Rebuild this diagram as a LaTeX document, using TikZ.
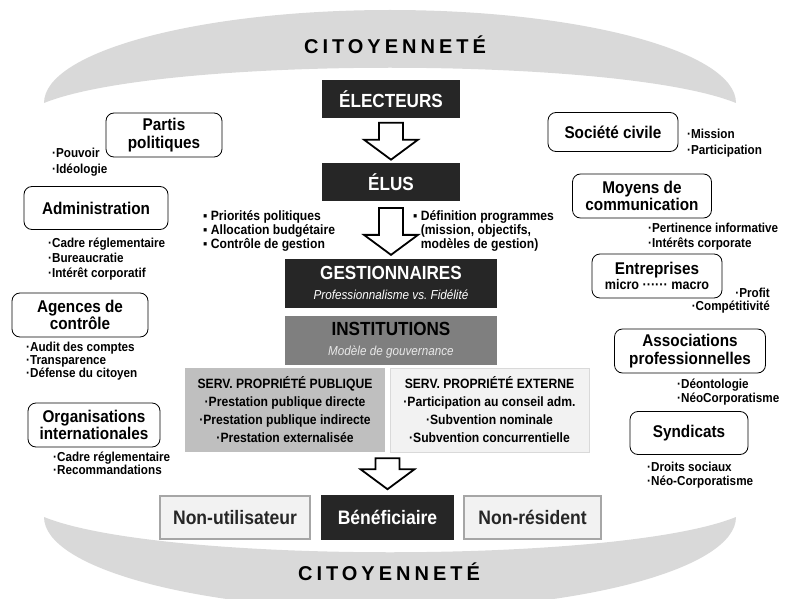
\documentclass[tikz,border=0pt]{standalone}
\usepackage{fontspec}
\setmainfont[FakeStretch=0.9]{Liberation Sans}
\newfontfamily\citfont[LetterSpace=20]{Liberation Sans}
\usetikzlibrary{calc}

\definecolor{bandgray}{HTML}{D9D9D9}
\definecolor{darkfill}{HTML}{262626}
\definecolor{instgray}{HTML}{7F7F7F}
\definecolor{pubgray}{HTML}{BFBFBF}
\definecolor{extfill}{HTML}{F2F2F2}
\definecolor{nonline}{HTML}{A6A6A6}

\newcommand{\sz}[2]{\fontsize{#1}{#2}\selectfont}
% big hollow arrow between two coordinates on the same vertical
\newcommand{\hollowarrow}[2]{%
  \draw[hollow] ($(#1)+(-12,0)$) -- ($(#2)+(-12,-20)$) -- ($(#2)+(-27,-20)$) -- (#2)
    -- ($(#2)+(27,-20)$) -- ($(#2)+(12,-20)$) -- ($(#1)+(12,0)$) -- cycle;}

\tikzset{
  darkbox/.style={fill=darkfill, text=white, inner sep=0pt, align=center,
    minimum width=138pt, minimum height=38pt, font=\sz{19}{21}\bfseries},
  orgbox/.style={draw, rounded corners=8pt, fill=white, line width=0.8pt,
    inner sep=0pt, align=center, font=\sz{17}{17.5}\bfseries},
  list/.style={inner sep=0pt, align=left, font=\sz{13}{15}\bfseries},
  servbox/.style={inner sep=0pt, align=center, minimum width=200pt,
    minimum height=84pt, font=\sz{13.5}{18}\bfseries},
  userbox/.style={fill=extfill, draw=nonline, line width=1.5pt, inner sep=0pt,
    minimum height=43pt, font=\sz{19.5}{20}\bfseries, text=darkfill},
  citoy/.style={inner sep=0pt, font=\citfont\sz{20}{20}\bfseries},
  hollow/.style={draw, fill=white, line width=1.8pt, line join=miter},
}

\begin{document}
\begin{tikzpicture}[x=1pt, y=-1pt]
\useasboundingbox (0,0) rectangle (790,599);
\clip (0,0) rectangle (790,599);

% citizenship bands
\fill[bandgray] (44,103) arc[start angle=180, end angle=360, x radius=346, y radius=93]
  .. controls (620,56) and (160,56) .. cycle;
\fill[bandgray] (44,517) .. controls (160,564) and (620,564) .. (736,517)
  arc[start angle=0, end angle=180, x radius=346, y radius=93] -- cycle;
\node[citoy] (citTop) at (395,45) {CITOYENNETÉ};
\node[citoy] (citBot) at (389,572) {CITOYENNETÉ};

% central chain
\node[darkbox] (elect) at (391,99) {ÉLECTEURS};
\node[darkbox] (elus) at (391,182) {ÉLUS};
\node[darkbox, minimum width=212pt, minimum height=49pt] (gest) at (391,283)
  {GESTIONNAIRES\\[-1pt]{\sz{13}{14}\mdseries\itshape Professionnalisme vs.~Fidélité}};
\node[darkbox, fill=instgray, text=black, minimum width=212pt, minimum height=49pt] (inst) at (391,340)
  {INSTITUTIONS\\[-1pt]{\sz{13}{14}\mdseries\itshape\color{bandgray!60} Modèle de gouvernance}};
\node[servbox, fill=pubgray] (servpub) at (285,410)
  {SERV. PROPRIÉTÉ PUBLIQUE\\·Prestation publique directe\\·Prestation publique indirecte\\·Prestation externalisée};
\node[servbox, fill=extfill, draw=bandgray, minimum width=199pt] (servext) at (489.5,410)
  {SERV. PROPRIÉTÉ EXTERNE\\·Participation au conseil adm.\\·Subvention nominale\\·Subvention concurrentielle};

\node[list, anchor=base west, font=\sz{13.5}{14}\bfseries] (elusl) at (203,248)
  {▪ Priorités politiques\\▪ Allocation budgétaire\\▪ Contrôle de gestion};
\node[list, anchor=base west, font=\sz{13.5}{14}\bfseries] (elusr) at (413,248)
  {▪ Définition programmes\\\phantom{▪ }(mission, objectifs,\\\phantom{▪ }modèles de gestion)};

% users
\node[userbox, minimum width=150pt] (nonutil) at (235,517.5) {Non-utilisateur};
\node[userbox, fill=darkfill, draw=darkfill, text=white, minimum width=131pt] (benef) at (387.5,517.5) {Bénéficiaire};
\node[userbox, minimum width=137pt] (nonres) at (532.5,517.5) {Non-résident};

% arrows
\path (elect.south) -- (elus.north) coordinate[pos=.1] (a1s) coordinate[pos=.93] (a1e);
\path (elus.south) -- (gest.north) coordinate[pos=.12] (a2s) coordinate[pos=.94] (a2e);
\path ($(servpub.south east)!.5!(servext.south west)$) -- (benef.north)
  coordinate[pos=.14] (a3s) coordinate[pos=.86] (a3e);
\hollowarrow{a1s}{a1e}
\hollowarrow{a2s}{a2e}
\hollowarrow{a3s}{a3e}

% left actors
\node[orgbox, minimum width=116pt, minimum height=44pt] (partis) at (164,135) {Partis\\politiques};
\node[list, anchor=base west, font=\sz{13}{17}\bfseries] (partisl) at (52,174) {·Pouvoir\\·Idéologie};
\node[orgbox, minimum width=144pt, minimum height=43pt] (admin) at (96,208) {Administration};
\node[list, anchor=base west] (adminl) at (48,277) {·Cadre réglementaire\\·Bureaucratie\\·Intérêt corporatif};
\node[orgbox, minimum width=136pt, minimum height=44pt] (agenc) at (80,315) {Agences de\\contrôle};
\node[list, anchor=base west, font=\sz{13}{13}\bfseries] (agencl) at (26,377) {·Audit des comptes\\·Transparence\\·Défense du citoyen};
\node[orgbox, minimum width=132pt, minimum height=44pt] (orgint) at (94,425) {Organisations\\internationales};
\node[list, anchor=base west, font=\sz{13}{13}\bfseries] (orgintl) at (53,474) {·Cadre réglementaire\\·Recommandations};

% right actors
\node[orgbox, minimum width=130pt, minimum height=39pt] (soc) at (613,132) {Société civile};
\node[list, anchor=base west, font=\sz{13}{16}\bfseries] (socl) at (687,154) {·Mission\\·Participation};
\node[orgbox, minimum width=139pt, minimum height=44pt] (moy) at (642,196) {Moyens de\\communication};
\node[list, anchor=base west] (moyl) at (648,247) {·Pertinence informative\\·Intérêts corporate};
\node[orgbox, minimum width=130pt, minimum height=44pt] (entr) at (657,276)
  {Entreprises\\[-2pt]{\sz{14}{14}micro ······ macro}};
\node[list, anchor=north east, align=right, font=\sz{13}{13}\bfseries] (entrl) at (770,288) {·Profit\\·Compétitivité};
\node[orgbox, minimum width=151pt, minimum height=44pt] (assoc) at (690,351) {Associations\\professionnelles};
\node[list, anchor=base west, font=\sz{13}{14}\bfseries] (assocl) at (677,402) {·Déontologie\\·NéoCorporatisme};
\node[orgbox, minimum width=118pt, minimum height=43pt] (synd) at (689,433) {Syndicats};
\node[list, anchor=base west, font=\sz{13}{13.5}\bfseries] (syndl) at (647,485) {·Droits sociaux\\·Néo-Corporatisme};
\end{tikzpicture}
\end{document}
